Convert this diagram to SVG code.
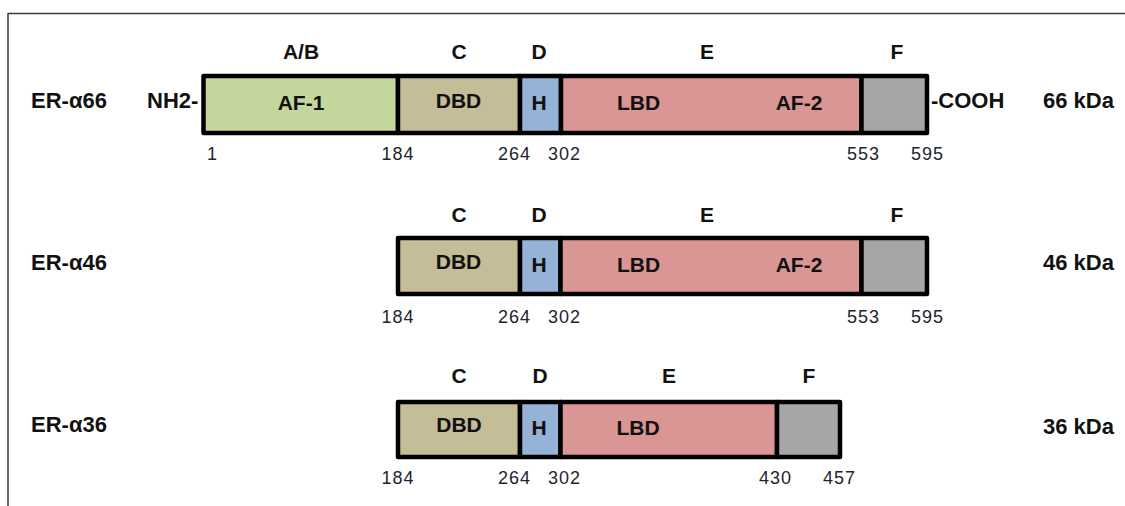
<svg xmlns="http://www.w3.org/2000/svg" width="1125" height="506" viewBox="0 0 1125 506">
  <style>
    .frame { stroke: #3a3a3a; stroke-width: 1.5; fill: none; }
    .dom { stroke: #000; stroke-width: 4.5; stroke-linejoin: round; }
    .ab { fill: #c3d69b; }
    .c { fill: #c4bd97; }
    .d { fill: #95b3d7; }
    .e { fill: #d99694; }
    .f { fill: #a6a6a6; }
    text { font-family: "Liberation Sans", Arial, sans-serif; fill: #111; }
    .lbl { font-weight: bold; font-size: 21px; text-anchor: middle; }
    .name { font-weight: bold; font-size: 22px; }
    .num { font-size: 18px; letter-spacing: 1px; fill: #1e2430; }
  </style>

  <!-- frame -->
  <g id="frame">
    <line class="frame" x1="8" y1="13.5" x2="1125" y2="13.5"/>
    <line class="frame" x1="8" y1="13" x2="8" y2="506"/>
  </g>

  <!-- ER-alpha66 -->
  <g id="er-alpha66">
    <text class="name" x="31" y="108">ER-α66</text>
    <text class="name" x="147" y="108">NH2-</text>
    <text class="name" x="931" y="108">-COOH</text>
    <text class="name" x="1043" y="108">66 kDa</text>
    <rect class="dom ab" x="203.5" y="76" width="194.5" height="57"/>
    <rect class="dom c" x="398" y="76" width="122" height="57"/>
    <rect class="dom d" x="520" y="76" width="41" height="57"/>
    <rect class="dom e" x="561" y="76" width="300.5" height="57"/>
    <rect class="dom f" x="861.5" y="76" width="65.5" height="57"/>
    <text class="lbl" x="301" y="59">A/B</text>
    <text class="lbl" x="459" y="59">C</text>
    <text class="lbl" x="539" y="59">D</text>
    <text class="lbl" x="707" y="59">E</text>
    <text class="lbl" x="897" y="59">F</text>
    <text class="lbl" x="301" y="110">AF-1</text>
    <text class="lbl" x="458.5" y="107.5">DBD</text>
    <text class="lbl" x="539" y="110">H</text>
    <text class="lbl" x="638.5" y="110">LBD</text>
    <text class="lbl" x="799" y="110">AF-2</text>
    <text class="num" x="207" y="160">1</text>
    <text class="num" x="381.5" y="160">184</text>
    <text class="num" x="498" y="160">264</text>
    <text class="num" x="548" y="160">302</text>
    <text class="num" x="847" y="160">553</text>
    <text class="num" x="911" y="160">595</text>
  </g>

  <!-- ER-alpha46 -->
  <g id="er-alpha46">
    <text class="name" x="31" y="269.5">ER-α46</text>
    <text class="name" x="1043" y="270">46 kDa</text>
    <rect class="dom c" x="398" y="238" width="122" height="56"/>
    <rect class="dom d" x="520" y="238" width="40.5" height="56"/>
    <rect class="dom e" x="560.5" y="238" width="301" height="56"/>
    <rect class="dom f" x="861.5" y="238" width="65.5" height="56"/>
    <text class="lbl" x="459" y="221.5">C</text>
    <text class="lbl" x="539" y="221.5">D</text>
    <text class="lbl" x="707" y="221.5">E</text>
    <text class="lbl" x="897" y="221.5">F</text>
    <text class="lbl" x="458.5" y="269">DBD</text>
    <text class="lbl" x="539" y="272">H</text>
    <text class="lbl" x="638.5" y="272">LBD</text>
    <text class="lbl" x="799" y="272">AF-2</text>
    <text class="num" x="381.5" y="323">184</text>
    <text class="num" x="498" y="323">264</text>
    <text class="num" x="548" y="323">302</text>
    <text class="num" x="847" y="323">553</text>
    <text class="num" x="911" y="323">595</text>
  </g>

  <!-- ER-alpha36 -->
  <g id="er-alpha36">
    <text class="name" x="31" y="432">ER-α36</text>
    <text class="name" x="1043" y="434">36 kDa</text>
    <rect class="dom c" x="398" y="402" width="122" height="55"/>
    <rect class="dom d" x="520" y="402" width="40.5" height="55"/>
    <rect class="dom e" x="560.5" y="402" width="216.5" height="55"/>
    <rect class="dom f" x="777" y="402" width="63" height="55"/>
    <text class="lbl" x="459" y="383">C</text>
    <text class="lbl" x="540" y="383">D</text>
    <text class="lbl" x="669" y="383">E</text>
    <text class="lbl" x="809" y="383">F</text>
    <text class="lbl" x="459" y="432">DBD</text>
    <text class="lbl" x="539" y="435">H</text>
    <text class="lbl" x="638" y="435">LBD</text>
    <text class="num" x="381.5" y="484">184</text>
    <text class="num" x="498" y="484">264</text>
    <text class="num" x="548" y="484">302</text>
    <text class="num" x="759" y="484">430</text>
    <text class="num" x="823" y="484">457</text>
  </g>
</svg>
